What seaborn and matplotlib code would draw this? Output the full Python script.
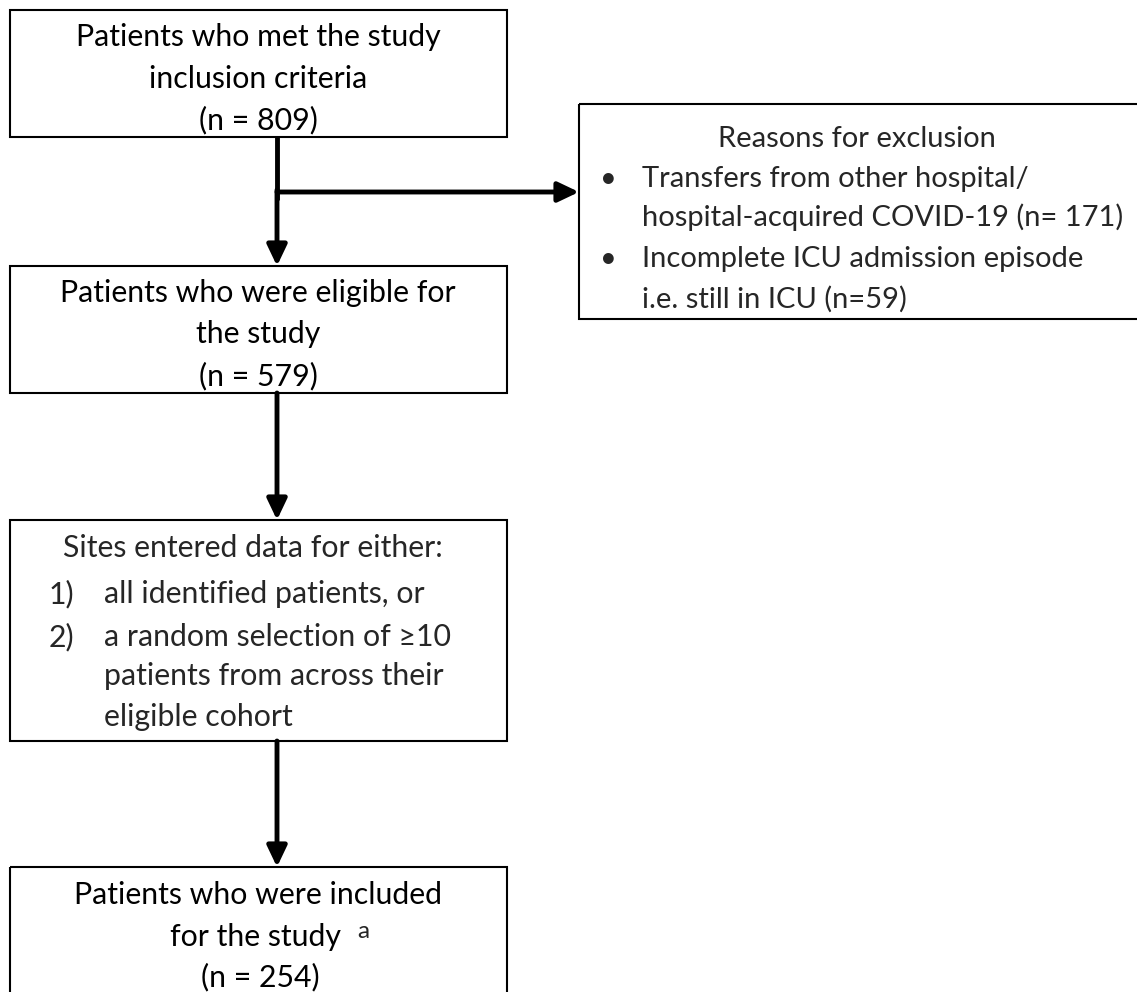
import matplotlib
matplotlib.use("Agg")
import matplotlib.pyplot as plt
from matplotlib.patches import Rectangle
import seaborn as sns

# ---- data ----
stage_titles = [
    ["Patients who met the study", "inclusion criteria"],
    ["Patients who were eligible for", "the study"],
    ["Patients who were included", "for the study"],
]
stage_counts = [809, 579, 254]
exclusion_title = "Reasons for exclusion"
exclusion_reasons = [
    ["Transfers from other hospital/", "hospital-acquired COVID-19"],
    ["Incomplete ICU admission episode", "i.e. still in ICU"],
]
exclusion_counts = [171, 59]
exclusion_fmt = ["(n= {})", "(n={})"]
selection_title = "Sites entered data for either:"
selection_items = [
    ["all identified patients, or"],
    ["a random selection of \u226510", "patients from across their", "eligible cohort"],
]
footnote_mark = "a"

sns.set_theme(style="white")
plt.rcParams['font.family'] = ['Lato', 'DejaVu Sans']

W, H = 1137, 992
fig = plt.figure(figsize=(W / 100, H / 100), dpi=100)
ax = fig.add_axes([0, 0, 1, 1])
ax.set_xlim(0, W)
ax.set_ylim(H, 0)
ax.axis("off")

FS = 21.8
FS_EX = 21.0
LW = 1.5
LS = 41.5  # line spacing px

def box(x0, y0, x1, y1):
    ax.add_patch(Rectangle((x0, y0), x1 - x0, y1 - y0, fill=False,
                           edgecolor="black", linewidth=LW, clip_on=False))

def arrow(x0, y0, x1, y1):
    ax.annotate("", xy=(x1, y1), xytext=(x0, y0),
                arrowprops=dict(arrowstyle="-|>,head_length=1.05,head_width=0.5",
                                color="black", lw=3.5, shrinkA=0, shrinkB=0))

# boxes
BL, BR = 10, 507
box(BL, 10, BR, 137)
box(BL, 266, BR, 393)
box(BL, 520, BR, 741)
box(BL, 867, BR, 1010)
box(579, 104, 1160, 319)

CX = 258
AX_ = 277
# arrows
ax.plot([AX_, AX_], [137, 200], color="black", lw=3.5, solid_capstyle="butt")
arrow(AX_, 190, AX_, 266)
arrow(AX_, 192, 579, 192)
arrow(AX_, 393, AX_, 520)
arrow(AX_, 741, AX_, 867)

def ctext(x, y, s, **kw):
    ax.text(x, y, s, ha="center", va="center", fontsize=FS, color="black", **kw)

# stage 1
y = 37
for line in stage_titles[0]:
    ctext(CX, y, line); y += LS
ctext(CX, y, f"(n = {stage_counts[0]})")

# stage 2
y = 293
for line in stage_titles[1]:
    ctext(CX, y, line); y += LS
ctext(CX, y, f"(n = {stage_counts[1]})")

# stage 3 (selection)
ax.text(63, 548, selection_title, ha="left", va="center", fontsize=FS)
ys = [594, 637, 676, 717]
k = 0
for i, item in enumerate(selection_items):
    ax.text(49, ys[k], f"{i + 1})", ha="left", va="center", fontsize=FS)
    for line in item:
        ax.text(104, ys[k], line, ha="left", va="center", fontsize=FS)
        k += 1

# stage 4
ctext(CX, 895, stage_titles[2][0])
ctext(256, 937, stage_titles[2][1])
ax.text(357, 931, footnote_mark, ha="left", va="center", fontsize=FS * 0.8)
ctext(260, 977, f"(n = {stage_counts[2]})")

# exclusion box
ax.text(857, 139, exclusion_title, ha="center", va="center", fontsize=FS_EX)
ys = [179, 217, 259, 299]
k = 0
for reason, cnt, fmt in zip(exclusion_reasons, exclusion_counts, exclusion_fmt):
    ax.text(608, ys[k], "\u2022", ha="center", va="center", fontsize=FS_EX)
    for j, line in enumerate(reason):
        s = line + (" " + fmt.format(cnt) if j == len(reason) - 1 else "")
        ax.text(642, ys[k], s, ha="left", va="center", fontsize=FS_EX)
        k += 1

fig.savefig("out.png", dpi=100, facecolor="white")
